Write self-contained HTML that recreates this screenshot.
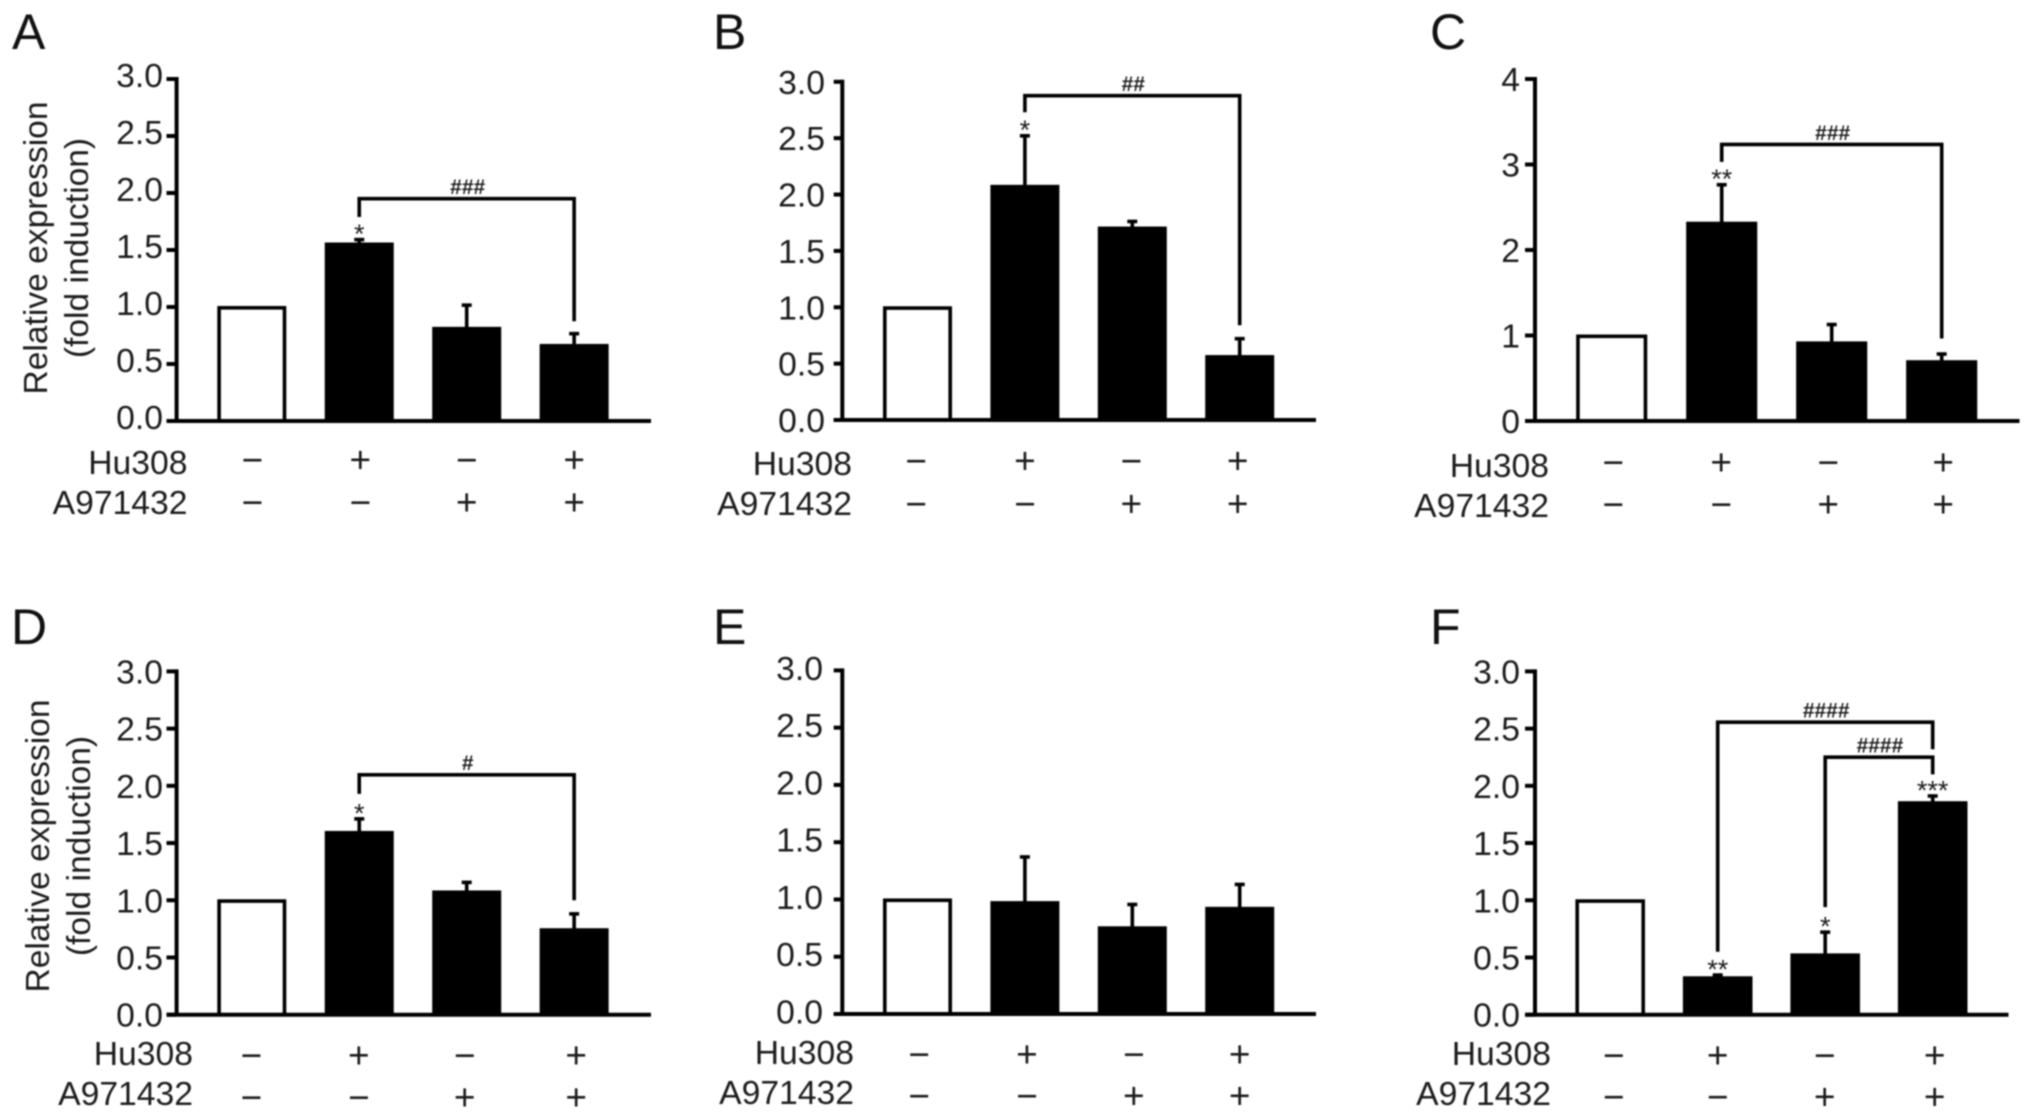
<!DOCTYPE html>
<html lang="en">
<head>
<meta charset="utf-8">
<title>Relative expression bar charts</title>
<style>
html,body{margin:0;padding:0;background:#fff;width:2032px;height:1120px;overflow:hidden}
svg{display:block;filter:blur(0.75px)}
text{font-family:"Liberation Sans",Arial,sans-serif;fill:#1c1c1c}
.letter{font-size:50px;fill:#111}
.tick{font-size:33.7px;text-anchor:end}
.row{font-size:33.7px;text-anchor:end}
.yt{font-size:33.6px;text-anchor:middle}
.sign{font-size:37px;text-anchor:middle;fill:#1c1c1c}
.hash{font-size:21px;font-weight:bold;text-anchor:middle;fill:#1c1c1c}
.star{font-size:27px;text-anchor:middle;fill:#1c1c1c}
</style>
</head>
<body>
<svg id="fig" xmlns="http://www.w3.org/2000/svg" width="2032" height="1120" viewBox="0 0 2032 1120">
  <rect width="2032" height="1120" fill="#fff"/>

  <g id="panel-a">
    <text class="letter" x="12" y="49">A</text>
    <text class="yt" transform="translate(47,248) rotate(-90)">Relative expression</text>
    <text class="yt" transform="translate(88,248) rotate(-90)">(fold induction)</text>
    <text class="row" x="187.5" y="474">Hu308</text>
    <text class="row" x="187.5" y="514">A971432</text>
  </g>
  <g id="panel-b">
    <text class="letter" x="713" y="49">B</text>
    <text class="row" x="852" y="475">Hu308</text>
    <text class="row" x="852" y="515">A971432</text>
  </g>
  <g id="panel-c">
    <text class="letter" x="1430" y="49">C</text>
    <text class="row" x="1549" y="477">Hu308</text>
    <text class="row" x="1549" y="517">A971432</text>
  </g>
  <g id="panel-d">
    <text class="letter" x="11" y="644">D</text>
    <text class="yt" transform="translate(49,846) rotate(-90)">Relative expression</text>
    <text class="yt" transform="translate(90,846) rotate(-90)">(fold induction)</text>
    <text class="row" x="193" y="1065">Hu308</text>
    <text class="row" x="193" y="1105">A971432</text>
  </g>
  <g id="panel-e">
    <text class="letter" x="713" y="644">E</text>
    <text class="row" x="854" y="1064">Hu308</text>
    <text class="row" x="854" y="1104">A971432</text>
  </g>
  <g id="panel-f">
    <text class="letter" x="1430" y="644">F</text>
    <text class="row" x="1551" y="1065">Hu308</text>
    <text class="row" x="1551" y="1105">A971432</text>
  </g>
</svg>

<script>
// ---- shared categories and tick labels ----
const hu308Signs = ['\u2212', '+', '\u2212', '+'];
const a971432Signs = ['\u2212', '\u2212', '+', '+'];
const ticksThree = ['0.0', '0.5', '1.0', '1.5', '2.0', '2.5', '3.0'];
const ticksFour = ['0', '1', '2', '3', '4'];

// ---- panel values ----
const valuesA = [1.0, 1.55, 0.81, 0.66];
const errorsA = [0, 0.05, 0.215, 0.115];
const starsA = ['', '*', '', ''];
const bracketsA = [{from: 1, to: 3, level: 1.95, fromEnd: 1.79, toEnd: 0.875, label: '###'}];

const valuesB = [1.0, 2.07, 1.70, 0.56];
const errorsB = [0, 0.46, 0.07, 0.17];
const starsB = ['', '*', '', ''];
const bracketsB = [{from: 1, to: 3, level: 2.877, fromEnd: 2.73, toEnd: 0.84, label: '##'}];

const valuesC = [1.0, 2.31, 0.91, 0.69];
const errorsC = [0, 0.465, 0.23, 0.105];
const starsC = ['', '**', '', ''];
const bracketsC = [{from: 1, to: 3, level: 3.235, fromEnd: 3.03, toEnd: 0.965, label: '###'}];

const valuesD = [1.0, 1.59, 1.07, 0.74];
const errorsD = [0, 0.13, 0.095, 0.15];
const starsD = ['', '*', '', ''];
const bracketsD = [{from: 1, to: 3, level: 2.096, fromEnd: 1.93, toEnd: 1.0, label: '#'}];

const valuesE = [1.0, 0.97, 0.75, 0.92];
const errorsE = [0, 0.41, 0.215, 0.22];
const starsE = ['', '', '', ''];
const bracketsE = [];

const valuesF = [1.0, 0.32, 0.52, 1.85];
const errorsF = [0, 0.035, 0.21, 0.07];
const starsF = ['', '**', '*', '***'];
const bracketsF = [
  {from: 1, to: 3, level: 2.556, fromEnd: 0.55, toEnd: 2.32, label: '####'},
  {from: 2, to: 3, level: 2.25, fromEnd: 0.94, toEnd: 2.1, label: '####'}
];

// ---- panel geometry (pixel layout, not data) ----
const layoutA = {id: 'a', axisX: 176.6, tickEnd: 166.5, right: 651, top: 79, base: 421, max: 3, firstBar: 251.8, step: 107.45, barW: 65.4, labelX: 163, labelDy: -4, signRows: [459.5, 502], signNudge: [0.5, 1, 0, 0]};
const layoutB = {id: 'b', axisX: 842.3, tickEnd: 833.7, right: 1316, top: 81.8, base: 420, max: 3, firstBar: 917.5, step: 107.4, barW: 65.4, labelX: 825, labelDy: 0, signRows: [460.5, 503.4], signNudge: [-1.5, 0, -1, -2]};
const layoutC = {id: 'c', axisX: 1535, tickEnd: 1525, right: 2019.5, top: 79, base: 421, max: 4, firstBar: 1611.7, step: 110, barW: 67.5, labelX: 1520, labelDy: 0, signRows: [462, 504], signNudge: [1.5, -0.5, -3.5, 1.5]};
const layoutD = {id: 'd', axisX: 176.6, tickEnd: 166.5, right: 651, top: 671.4, base: 1014.7, max: 3, firstBar: 251.8, step: 107.45, barW: 65.4, labelX: 163, labelDy: 0, signRows: [1055, 1097], signNudge: [-0.5, -0.5, -2, 2]};
const layoutE = {id: 'e', axisX: 842.3, tickEnd: 833.7, right: 1316, top: 670.4, base: 1014, max: 3, firstBar: 917.5, step: 107.4, barW: 65.4, labelX: 823, labelDy: -2.5, signRows: [1054, 1095.5], signNudge: [1.5, 2, 1.5, 0]};
const layoutF = {id: 'f', axisX: 1535, tickEnd: 1525, right: 2008.5, top: 671.4, base: 1014.7, max: 3, firstBar: 1610.2, step: 107.5, barW: 66, labelX: 1520, labelDy: 0, signRows: [1055, 1096.5], signNudge: [3.5, 0, -0.5, 2]};

const SVG_NS = 'http://www.w3.org/2000/svg';

function mk(tag, attrs, parent, text) {
  const node = document.createElementNS(SVG_NS, tag);
  for (const k in attrs) node.setAttribute(k, attrs[k]);
  if (text !== undefined) node.textContent = text;
  parent.appendChild(node);
  return node;
}

function drawPanel(layout, values, errors, stars, brackets, tickLabels) {
  const g = document.getElementById('panel-' + layout.id);
  const yScale = function (v) { return layout.base - (v / layout.max) * (layout.base - layout.top); };
  const xScale = function (i) { return layout.firstBar + i * layout.step; };
  const INK = '#000';
  let el;

  // bars, error bars, stars
  values.forEach(function (v, i) {
    const cx = xScale(i);
    const hollow = i === 0;
    const err = errors[i];
    if (err > 0) {
      el = mk('line', {x1: cx, x2: cx, y1: yScale(v), y2: yScale(v + err), stroke: INK, 'stroke-width': 3.6}, g);
      
      
      el = mk('line', {x1: cx - 5, x2: cx + 5, y1: yScale(v + err) + 1, y2: yScale(v + err) + 1, stroke: INK, 'stroke-width': 3.6}, g);
      
      
    }
    const topY = yScale(v) + (hollow ? 0.8 : 0);
    el = mk('rect', {
      x: cx - layout.barW / 2,
      y: topY,
      width: layout.barW,
      height: layout.base - topY,
      fill: hollow ? '#fff' : INK,
      stroke: INK,
      'stroke-width': 3.6
    }, g);
    
    
    if (stars[i]) {
      el = mk('text', {class: 'star', x: cx, y: yScale(v + err) - 11 + 0.57 * 27}, g, stars[i]);
      
      
    }
  });

  // axes
  el = mk('line', {x1: layout.axisX, x2: layout.axisX, y1: layout.top - 2, y2: layout.base, stroke: INK, 'stroke-width': 4}, g);
  
  
  el = mk('line', {x1: layout.tickEnd, x2: layout.right, y1: layout.base, y2: layout.base, stroke: INK, 'stroke-width': 4}, g);
  
  

  // y ticks
  tickLabels.forEach(function (label) {
    const ty = yScale(parseFloat(label));
    el = mk('line', {x1: layout.tickEnd, x2: layout.axisX, y1: ty, y2: ty, stroke: INK, 'stroke-width': 4}, g);
    
    
    el = mk('text', {class: 'tick', x: layout.labelX, y: ty + 12 + layout.labelDy}, g, label);
    
    
  });

  // treatment sign rows
  hu308Signs.forEach(function (s, i) {
    el = mk('text', {class: 'sign', x: xScale(i) + layout.signNudge[i], y: layout.signRows[0] + 13}, g, s);
    
    
  });
  a971432Signs.forEach(function (s, i) {
    el = mk('text', {class: 'sign', x: xScale(i) + layout.signNudge[i], y: layout.signRows[1] + 13}, g, s);
    
    
  });

  // comparison brackets
  brackets.forEach(function (b) {
    const x1 = xScale(b.from), x2 = xScale(b.to);
    const d = 'M' + x1 + ' ' + yScale(b.fromEnd) + 'V' + yScale(b.level) + 'H' + x2 + 'V' + yScale(b.toEnd);
    el = mk('path', {d: d, fill: 'none', stroke: INK, 'stroke-width': 3.6}, g);
    
    
    el = mk('text', {class: 'hash', x: (x1 + x2) / 2 + 1, y: yScale(b.level) - 12 + 0.35 * 21}, g, b.label);
    
    
  });
}

drawPanel(layoutA, valuesA, errorsA, starsA, bracketsA, ticksThree);
drawPanel(layoutB, valuesB, errorsB, starsB, bracketsB, ticksThree);
drawPanel(layoutC, valuesC, errorsC, starsC, bracketsC, ticksFour);
drawPanel(layoutD, valuesD, errorsD, starsD, bracketsD, ticksThree);
drawPanel(layoutE, valuesE, errorsE, starsE, bracketsE, ticksThree);
drawPanel(layoutF, valuesF, errorsF, starsF, bracketsF, ticksThree);
</script>
</body>
</html>
